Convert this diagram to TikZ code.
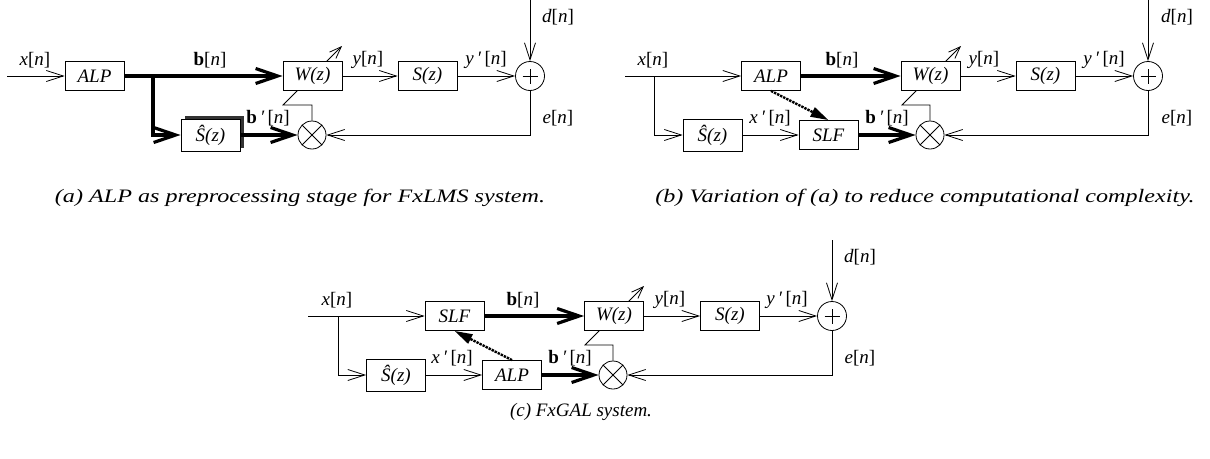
\documentclass[tikz,border=0pt]{standalone}
\usepackage{fontspec}
\setmainfont{Liberation Serif}
\usetikzlibrary{arrows.meta,shadows,backgrounds}
\tikzset{
  blk/.style={draw, fill=white, line width=0.8pt, minimum width=59pt, minimum height=29pt, inner sep=0pt, font=\fontsize{19}{22}\selectfont\itshape},
  hblk/.style={blk, minimum height=32pt},
  shd/.style={drop shadow={shadow xshift=3.5pt, shadow yshift=3.5pt, fill=black!80, opacity=1}},
  sumc/.style={draw, circle, fill=white, line width=0.8pt, minimum size=29pt, inner sep=0pt,
    path picture={\draw[line width=0.8pt] ([xshift=-7.5pt]path picture bounding box.center) -- ([xshift=7.5pt]path picture bounding box.center)
      ([yshift=-7.5pt]path picture bounding box.center) -- ([yshift=7.5pt]path picture bounding box.center);}},
  mulc/.style={draw, circle, fill=white, line width=0.8pt, minimum size=28pt, inner sep=0pt,
    path picture={\draw[line width=0.8pt] (path picture bounding box.south west) -- (path picture bounding box.north east)
      (path picture bounding box.north west) -- (path picture bounding box.south east);}},
  arr/.style={line width=0.8pt, -{Straight Barb[length=17pt,width=11pt]}},
  thk/.style={line width=3.2pt, -{Straight Barb[length=22pt,width=15pt]}},
  adp/.style={line width=0.8pt, -{Straight Barb[length=12pt,width=9pt]}},
  dots/.style={line width=2.4pt, densely dotted, -{Triangle[length=18pt,width=10pt]}},
  lbl/.style={inner sep=0pt}
}
\begin{document}
\begin{tikzpicture}[x=1pt,y=-1pt,font=\fontsize{19}{22}\selectfont]
\useasboundingbox (0,0) rectangle (1210,458);

% (a)
\begin{scope}
\coordinate (ain) at (7,76);
\coordinate (abr) at (153,76);
\coordinate (atop) at (530,0);
\coordinate (aadj) at (283,105);
\node[blk] (aalp) at (94.5,76) {ALP};
\node[blk] (aw) at (312.5,76) {W(z)};
\node[blk] (as) at (427.5,76) {S(z)};
\node[hblk,shd] (ah) at (210.5,135) {Ŝ(z)};
\node[sumc] (asum) at (530,76) {};
\node[mulc] (amul) at (312,135) {};
\draw[arr] (ain) -- (aalp);
\draw[thk] (aalp) -- (aw);
\draw[thk] (abr) |- (ah);
\draw[thk] (ah) -- (amul);
\draw[arr] (aw) -- (as);
\draw[arr] (as) -- (asum);
\draw[arr] (atop) -- (asum);
\draw[arr] (asum) |- (amul);
\begin{pgfonlayer}{background}
\draw[adp] (amul) |- (aadj) -- ++(59,-59);
\end{pgfonlayer}
\node[lbl] (axl) at (35,60) {\textit{x}[\textit{n}]};
\node[lbl] (abl) at (210,60) {\textbf{b}[\textit{n}]};
\node[lbl] (ayl) at (368,60) {\textit{y}[\textit{n}]};
\node[lbl] (ayyl) at (486,60) {\textit{y\,′}\,[\textit{n}]};
\node[lbl] (adl) at (558,17) {\textit{d}[\textit{n}]};
\node[lbl] (ael) at (558,118) {\textit{e}[\textit{n}]};
\node[lbl] (abbl) at (268,118) {\textbf{b}\,\textit{′}\,[\textit{n}]};
\node (acap) at (300,198) {\scalebox{1.27}[1]{\itshape (a) ALP as preprocessing stage for FxLMS system.}};
\end{scope}

% (b)
\begin{scope}[xshift=618pt]
\coordinate (bin) at (7,76);
\coordinate (bbr) at (36,76);
\coordinate (btop) at (530,0);
\coordinate (badj) at (284,105);
\node[blk] (balp) at (153,76) {ALP};
\node[hblk] (bh) at (94.5,135) {Ŝ(z)};
\node[blk] (bslf) at (210.5,135) {SLF};
\node[blk] (bw) at (312.5,76) {W(z)};
\node[blk] (bs) at (427.5,76) {S(z)};
\node[sumc] (bsum) at (530,76) {};
\node[mulc] (bmul) at (312,135) {};
\draw[arr] (bin) -- (balp);
\draw[arr] (bbr) |- (bh);
\draw[arr] (bh) -- (bslf);
\draw[thk] (balp) -- (bw);
\draw[thk] (bslf) -- (bmul);
\draw[dots] (balp.south) -- (bslf.north);
\draw[arr] (bw) -- (bs);
\draw[arr] (bs) -- (bsum);
\draw[arr] (btop) -- (bsum);
\draw[arr] (bsum) |- (bmul);
\begin{pgfonlayer}{background}
\draw[adp] (bmul) |- (badj) -- ++(59,-59);
\end{pgfonlayer}
\node[lbl] (bxl) at (35,60) {\textit{x}[\textit{n}]};
\node[lbl] (bxxl) at (152,118) {\textit{x\,′}\,[\textit{n}]};
\node[lbl] (bbl) at (224,60) {\textbf{b}[\textit{n}]};
\node[lbl] (bbbl) at (269,118) {\textbf{b}\,\textit{′}\,[\textit{n}]};
\node[lbl] (byl) at (366,60) {\textit{y}[\textit{n}]};
\node[lbl] (byyl) at (486,60) {\textit{y\,′}\,[\textit{n}]};
\node[lbl] (bdl) at (559,17) {\textit{d}[\textit{n}]};
\node[lbl] (bel) at (559,118) {\textit{e}[\textit{n}]};
\node (bcap) at (307,198) {\scalebox{1.27}[1]{\itshape (b) Variation of (a) to reduce computational complexity.}};
\end{scope}

% (c)
\begin{scope}[xshift=302pt,yshift=-240pt]
\coordinate (cin) at (6,76);
\coordinate (cbr) at (36,76);
\coordinate (ctop) at (530,0);
\coordinate (cadj) at (283,105);
\node[blk] (cslf) at (152.5,76) {SLF};
\node[hblk] (ch) at (94,135) {Ŝ(z)};
\node[blk] (calp) at (210,135) {ALP};
\node[blk] (cw) at (312,76) {W(z)};
\node[blk] (cs) at (428,76) {S(z)};
\node[sumc] (csum) at (530,76) {};
\node[mulc] (cmul) at (311,135) {};
\draw[arr] (cin) -- (cslf);
\draw[arr] (cbr) |- (ch);
\draw[arr] (ch) -- (calp);
\draw[thk] (cslf) -- (cw);
\draw[thk] (calp) -- (cmul);
\draw[dots] (calp.north) -- (cslf.south);
\draw[arr] (cw) -- (cs);
\draw[arr] (cs) -- (csum);
\draw[arr] (ctop) -- (csum);
\draw[arr] (csum) |- (cmul);
\begin{pgfonlayer}{background}
\draw[adp] (cmul) |- (cadj) -- ++(59,-59);
\end{pgfonlayer}
\node[lbl] (cxl) at (35,60) {\textit{x}[\textit{n}]};
\node[lbl] (cxxl) at (150,118) {\textit{x\,′}\,[\textit{n}]};
\node[lbl] (cbl) at (221,60) {\textbf{b}[\textit{n}]};
\node[lbl] (cbbl) at (268,118) {\textbf{b}\,\textit{′}\,[\textit{n}]};
\node[lbl] (cyl) at (368,60) {\textit{y}[\textit{n}]};
\node[lbl] (cyyl) at (485,60) {\textit{y\,′}\,[\textit{n}]};
\node[lbl] (cdl) at (558,17) {\textit{d}[\textit{n}]};
\node[lbl] (cel) at (558,118) {\textit{e}[\textit{n}]};
\node (ccap) at (279,172) {\itshape (c) FxGAL system.};
\end{scope}
\end{tikzpicture}
\end{document}
